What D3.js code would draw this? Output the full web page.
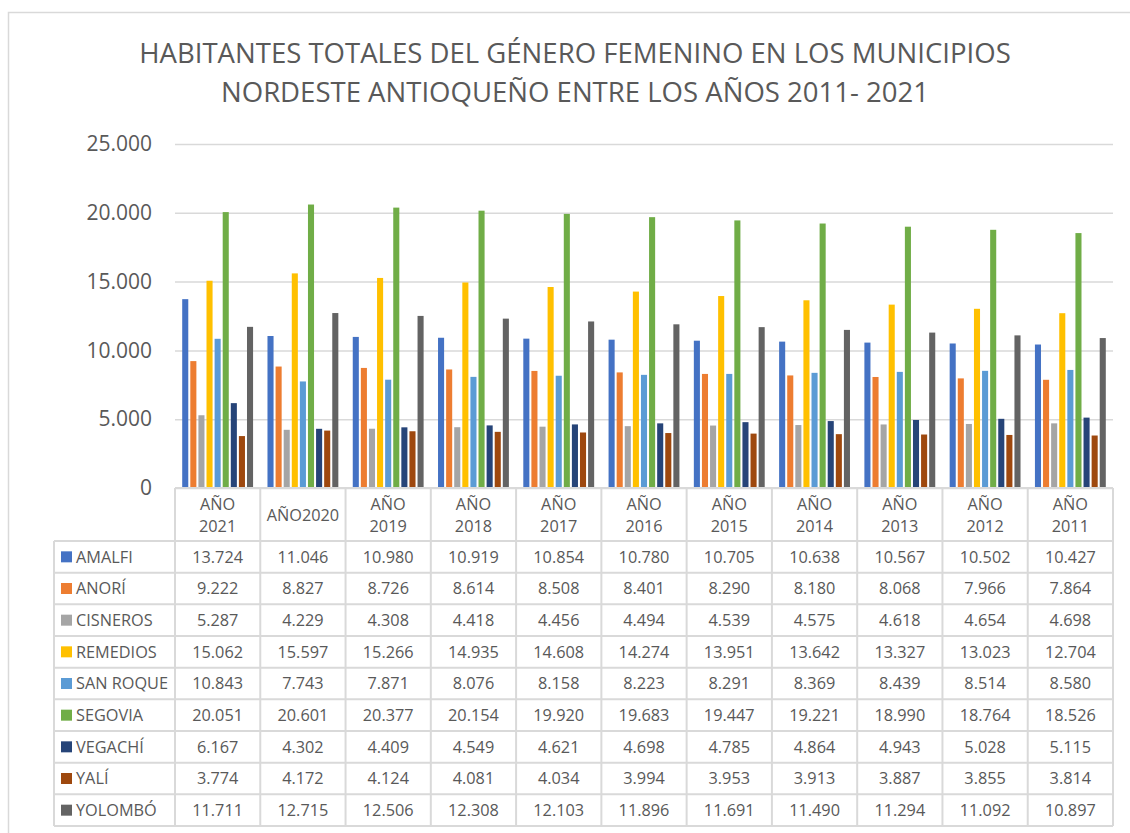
<!DOCTYPE html>
<html>
<head>
<meta charset="utf-8">
<script src="https://cdn.jsdelivr.net/npm/d3@7"></script>
<style>
  body { margin: 0; background: #fff; }
  svg text { font-family: "Open Sans", "Noto Sans", sans-serif; fill: #595959; }
</style>
</head>
<body>
<div id="chart"></div>
<script>
// Daten
const anios = ["AÑO 2021", "AÑO2020", "AÑO 2019", "AÑO 2018", "AÑO 2017", "AÑO 2016",
               "AÑO 2015", "AÑO 2014", "AÑO 2013", "AÑO 2012", "AÑO 2011"];
const municipios = ["AMALFI", "ANORÍ", "CISNEROS", "REMEDIOS", "SAN ROQUE",
                    "SEGOVIA", "VEGACHÍ", "YALÍ", "YOLOMBÓ"];
const amalfi   = [13724, 11046, 10980, 10919, 10854, 10780, 10705, 10638, 10567, 10502, 10427];
const anori    = [9222, 8827, 8726, 8614, 8508, 8401, 8290, 8180, 8068, 7966, 7864];
const cisneros = [5287, 4229, 4308, 4418, 4456, 4494, 4539, 4575, 4618, 4654, 4698];
const remedios = [15062, 15597, 15266, 14935, 14608, 14274, 13951, 13642, 13327, 13023, 12704];
const sanRoque = [10843, 7743, 7871, 8076, 8158, 8223, 8291, 8369, 8439, 8514, 8580];
const segovia  = [20051, 20601, 20377, 20154, 19920, 19683, 19447, 19221, 18990, 18764, 18526];
const vegachi  = [6167, 4302, 4409, 4549, 4621, 4698, 4785, 4864, 4943, 5028, 5115];
const yali     = [3774, 4172, 4124, 4081, 4034, 3994, 3953, 3913, 3887, 3855, 3814];
const yolombo  = [11711, 12715, 12506, 12308, 12103, 11896, 11691, 11490, 11294, 11092, 10897];
const yTicks = [0, 5000, 10000, 15000, 20000, 25000];
const colores = ["#4472C4", "#ED7D31", "#A5A5A5", "#FFC000", "#5B9BD5",
                 "#70AD47", "#264478", "#9E480E", "#636363"];

const series = [amalfi, anori, cisneros, remedios, sanRoque, segovia, vegachi, yali, yolombo];

const locale = d3.formatLocale({decimal: ",", thousands: ".", grouping: [3], currency: ["$", ""]});
const fmt = locale.format(",d");

// Konfiguration
const W = 1130, H = 833;
const plotLeft = 175, plotRight = 1113, plotTop = 144, plotBottom = 488;
const headerBottom = 541, tableBottom = 826, legendLeft = 54;
const gridColor = "#d9d9d9";

const svg = d3.select("#chart").append("svg")
    .attr("width", W).attr("height", H);

// Rahmen
svg.append("rect")
    .attr("x", 8.5).attr("y", 12.5)
    .attr("width", W + 20).attr("height", H + 20)
    .attr("fill", "none").attr("stroke", gridColor).attr("stroke-width", 1.5);

// Titel
const titel = ["HABITANTES TOTALES DEL GÉNERO FEMENINO EN LOS MUNICIPIOS",
               "NORDESTE ANTIOQUEÑO ENTRE LOS AÑOS 2011- 2021"];
const t1 = svg.append("text").attr("x", 575).attr("y", 63)
    .attr("text-anchor", "middle").attr("font-size", 28).text(titel[0]);
const fs = 28 * 872 / t1.node().getComputedTextLength();
t1.attr("font-size", fs);
svg.append("text").attr("x", 575).attr("y", 102)
    .attr("text-anchor", "middle").attr("font-size", fs).text(titel[1]);

// Skalen
const y = d3.scaleLinear().domain([0, 25000]).range([plotBottom, plotTop]);
const xCol = d3.scaleBand().domain(anios).range([plotLeft, plotRight]);
const x1 = d3.scaleBand().domain(municipios).range([0, xCol.bandwidth()])
    .paddingInner(0.25).paddingOuter(0.89);

// Y-Achse mit Gitterlinien
const yAxis = svg.append("g")
    .attr("transform", `translate(${plotLeft},0)`)
    .call(d3.axisLeft(y).tickValues(yTicks).tickFormat(fmt)
        .tickSize(-(plotRight - plotLeft)).tickPadding(23));
yAxis.select(".domain").remove();
yAxis.selectAll("line").attr("stroke", gridColor).attr("stroke-width", 1.5);
yAxis.selectAll("text").attr("font-size", 21).attr("fill", "#595959")
    .attr("font-family", "'Open Sans', sans-serif");

// Balken
const groups = svg.append("g").selectAll("g")
    .data(anios)
    .join("g")
    .attr("transform", d => `translate(${xCol(d)},0)`);

groups.selectAll("rect")
    .data((d, i) => municipios.map((m, k) => ({m, v: series[k][i]})))
    .join("rect")
    .attr("x", d => x1(d.m))
    .attr("y", d => y(d.v))
    .attr("width", x1.bandwidth())
    .attr("height", d => plotBottom - y(d.v))
    .attr("fill", (d, k) => colores[k]);

// Tabelle
const rowH = (tableBottom - headerBottom) / municipios.length;
const rowY = i => headerBottom + i * rowH;
const tbl = svg.append("g").attr("stroke", gridColor).attr("stroke-width", 2);

// horizontale Linien
tbl.append("line").attr("x1", plotLeft).attr("x2", plotRight)
    .attr("y1", plotBottom).attr("y2", plotBottom);
tbl.selectAll(".hl").data(d3.range(municipios.length + 1)).join("line")
    .attr("x1", legendLeft).attr("x2", plotRight)
    .attr("y1", d => rowY(d)).attr("y2", d => rowY(d));
// vertikale Linien
tbl.append("line").attr("x1", legendLeft).attr("x2", legendLeft)
    .attr("y1", headerBottom).attr("y2", tableBottom);
tbl.selectAll(".vl").data(anios.concat(["end"])).join("line")
    .attr("x1", d => d === "end" ? plotRight : xCol(d))
    .attr("x2", d => d === "end" ? plotRight : xCol(d))
    .attr("y1", plotBottom).attr("y2", tableBottom);

// Kopfzeile
const head = svg.append("g").selectAll("text").data(anios).join("text")
    .attr("text-anchor", "middle").attr("font-size", 16.3);
head.each(function(d) {
    const parts = d.split(" ");
    const cx = xCol(d) + xCol.bandwidth() / 2;
    const t = d3.select(this);
    if (parts.length === 1) {
        t.append("tspan").attr("x", cx).attr("y", 521).text(d);
    } else {
        t.append("tspan").attr("x", cx).attr("y", 510).text(parts[0]);
        t.append("tspan").attr("x", cx).attr("y", 532).text(parts[1]);
    }
});

// Legende
const leg = svg.append("g").selectAll("g").data(municipios).join("g")
    .attr("transform", (d, i) => `translate(0,${rowY(i) + rowH / 2})`);
leg.append("rect").attr("x", 61).attr("y", -5.5)
    .attr("width", 11).attr("height", 11)
    .attr("fill", (d, i) => colores[i]);
leg.append("text").attr("x", 76).attr("y", 0).attr("dy", "0.36em")
    .attr("font-size", 16.3).text(d => d);

// Werte
municipios.forEach((m, k) => {
    svg.append("g").selectAll("text").data(series[k]).join("text")
        .attr("x", (d, i) => xCol(anios[i]) + xCol.bandwidth() / 2)
        .attr("y", rowY(k) + rowH / 2)
        .attr("dy", "0.36em")
        .attr("text-anchor", "middle")
        .attr("font-size", 16.3)
        .text(d => fmt(d));
});
</script>
</body>
</html>
